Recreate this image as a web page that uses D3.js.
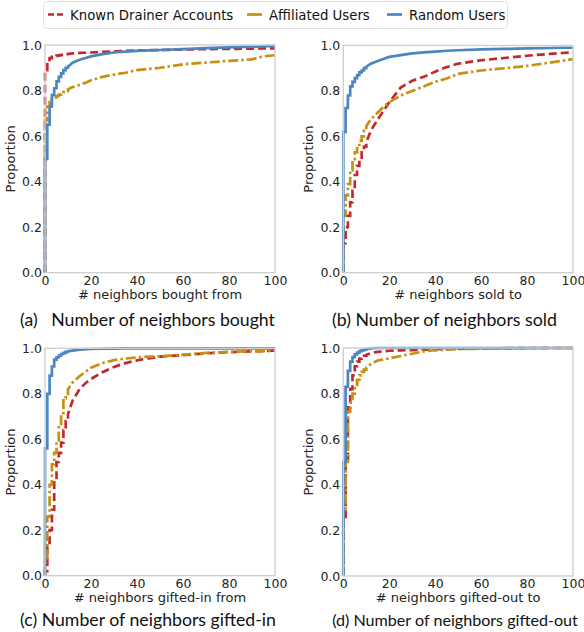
<!DOCTYPE html>
<html>
<head>
<meta charset="utf-8">
<script src="https://cdn.jsdelivr.net/npm/d3@7"></script>
<style>
  html, body { margin: 0; padding: 0; background: #fff; }
  svg { display: block; }
</style>
</head>
<body>
<svg id="chart" width="584" height="632"></svg>
<script>
// ---------------- DATA ----------------
const seriesNames = ["Known Drainer Accounts", "Affiliated Users", "Random Users"];
const xTicks = [0, 20, 40, 60, 80, 100];
const yTicks = [0.0, 0.2, 0.4, 0.6, 0.8, 1.0];
const xTickLabels = ["0", "20", "40", "60", "80", "100"];
const yTickLabels = ["0.0", "0.2", "0.4", "0.6", "0.8", "1.0"];

// number of neighbors (x) at which the CDF values below are read
const neighbors = [0,1,2,3,4,5,6,7,8,9,10,12,15,18,20,25,30,35,40,45,50,60,70,80,90,95,100];

// (a) bought from
const boughtDrainer = [0.89,0.935,0.942,0.948,0.951,0.953,0.955,0.957,0.958,0.96,0.961,0.963,0.965,0.966,0.967,0.97,0.972,0.974,0.976,0.977,0.978,0.98,0.982,0.983,0.984,0.985,0.985];
const boughtAffiliated = [0.67,0.73,0.755,0.765,0.77,0.776,0.782,0.788,0.793,0.798,0.805,0.815,0.825,0.835,0.845,0.86,0.87,0.878,0.89,0.895,0.90,0.915,0.923,0.93,0.937,0.95,0.955];
const boughtRandom = [0.50,0.65,0.73,0.78,0.81,0.84,0.86,0.875,0.89,0.90,0.905,0.922,0.935,0.944,0.95,0.96,0.967,0.971,0.974,0.976,0.978,0.982,0.986,0.99,0.993,0.994,0.996];

// (b) sold to
const soldDrainer = [0.13,0.20,0.25,0.31,0.36,0.43,0.47,0.50,0.53,0.555,0.575,0.625,0.675,0.72,0.75,0.815,0.845,0.862,0.885,0.905,0.92,0.935,0.945,0.955,0.963,0.967,0.97];
const soldAffiliated = [0.25,0.34,0.39,0.45,0.50,0.53,0.555,0.58,0.60,0.625,0.645,0.675,0.705,0.735,0.75,0.78,0.80,0.82,0.84,0.855,0.875,0.89,0.90,0.91,0.925,0.932,0.94];
const soldRandom = [0.62,0.725,0.78,0.82,0.84,0.856,0.87,0.882,0.89,0.90,0.907,0.92,0.932,0.943,0.95,0.958,0.965,0.97,0.973,0.977,0.979,0.983,0.985,0.987,0.989,0.99,0.99];

// (c) gifted-in from
const giftInDrainer = [0.02,0.13,0.20,0.29,0.43,0.50,0.54,0.585,0.64,0.68,0.71,0.77,0.82,0.85,0.865,0.895,0.918,0.935,0.947,0.956,0.963,0.97,0.978,0.983,0.987,0.988,0.99];
const giftInAffiliated = [0.06,0.26,0.40,0.49,0.54,0.595,0.66,0.715,0.78,0.80,0.82,0.85,0.877,0.90,0.915,0.935,0.948,0.955,0.96,0.963,0.965,0.972,0.98,0.984,0.987,0.988,0.99];
const giftInRandom = [0.56,0.80,0.88,0.92,0.95,0.96,0.968,0.975,0.98,0.984,0.987,0.99,0.994,0.996,0.997,0.998,0.999,1,1,1,1,1,1,1,1,1,1];

// (d) gifted-out to
const giftOutDrainer = [0.25,0.50,0.74,0.82,0.88,0.92,0.94,0.953,0.96,0.966,0.97,0.978,0.983,0.986,0.988,0.99,0.991,0.993,0.995,0.996,0.997,0.998,0.999,1,1,1,1];
const giftOutAffiliated = [0.29,0.50,0.72,0.76,0.80,0.83,0.86,0.88,0.895,0.905,0.915,0.93,0.945,0.95,0.955,0.965,0.975,0.985,0.99,0.993,0.995,0.997,0.998,0.999,1,1,1];
const giftOutRandom = [0.50,0.83,0.90,0.94,0.96,0.972,0.98,0.986,0.99,0.993,0.995,0.998,1,1,1,1,1,1,1,1,1,1,1,1,1,1,1];

const panelXLabels = ["# neighbors bought from", "# neighbors sold to", "# neighbors gifted-in from", "# neighbors gifted-out to"];
const panelCaptions = ["(a)   Number of neighbors bought", "(b) Number of neighbors sold", "(c) Number of neighbors gifted-in", "(d) Number of neighbors gifted-out"];
const panelSeries = [
  [boughtDrainer, boughtAffiliated, boughtRandom],
  [soldDrainer, soldAffiliated, soldRandom],
  [giftInDrainer, giftInAffiliated, giftInRandom],
  [giftOutDrainer, giftOutAffiliated, giftOutRandom]
];

// ---------------- STYLE / LAYOUT ----------------
const colors = ["#c4282e", "#c8900e", "#4a86c2"];
const dashes = ["8,4", "10,3,2.5,3", null];
const lineWidth = 2.7;
const boxes = [
  {l: 45, r: 275, t: 45, b: 272.7, capL: 20, capR: 275, capY: 320},
  {l: 343.3, r: 573, t: 45.5, b: 272.7, capL: 332, capR: 557, capY: 320},
  {l: 45, r: 275, t: 348.3, b: 575.7, capL: 20, capR: 276, capY: 620},
  {l: 343.3, r: 573, t: 348, b: 576, capL: 332, capR: 578, capY: 620}
];
const tickFont = "'DejaVu Sans', sans-serif";
const captionFont = "Lato, 'Open Sans', sans-serif";

const svg = d3.select("#chart");
svg.append("rect").attr("width", 584).attr("height", 632).attr("fill", "#fff");

function cdfPoints(xs, ys) {
  // step at unit spacing, straight segments where data is sparser
  const pts = [[xs[0], 0], [xs[0], ys[0]]];
  for (let i = 1; i < xs.length; i++) {
    if (xs[i] - xs[i - 1] <= 1) pts.push([xs[i], ys[i - 1]]);
    pts.push([xs[i], ys[i]]);
  }
  return pts;
}

boxes.forEach((bx, pi) => {
  const g = svg.append("g");
  const x = d3.scaleLinear().domain([0, 100]).range([bx.l, bx.r]);
  const y = d3.scaleLinear().domain([0, 1]).range([bx.b, bx.t]);

  const clipId = "clip" + pi;
  g.append("clipPath").attr("id", clipId).append("rect")
    .attr("x", bx.l - 2).attr("y", bx.t - 3).attr("width", bx.r - bx.l + 4).attr("height", bx.b - bx.t + 3);

  const line = d3.line().x(d => x(d[0])).y(d => y(d[1]));
  const lines = g.append("g").attr("clip-path", `url(#${clipId})`);
  [0, 1, 2].forEach(si => {
    lines.append("path")
      .attr("d", line(cdfPoints(neighbors, panelSeries[pi][si])))
      .attr("fill", "none")
      .attr("stroke", colors[si])
      .attr("stroke-width", lineWidth)
      .attr("stroke-dasharray", dashes[si])
      .attr("stroke-linejoin", "miter");
  });

  // frame
  g.append("rect").attr("x", bx.l).attr("y", bx.t).attr("width", bx.r - bx.l).attr("height", bx.b - bx.t)
    .attr("fill", "none").attr("stroke", "#cfcfcf").attr("stroke-width", 1.4);

  // axes (no tick marks)
  const xAxis = d3.axisBottom(x).tickValues(xTicks).tickFormat((d, i) => xTickLabels[i]).tickSize(0).tickPadding(3);
  const yAxis = d3.axisLeft(y).tickValues(yTicks).tickFormat((d, i) => yTickLabels[i]).tickSize(0).tickPadding(3);
  const gx = g.append("g").attr("transform", `translate(0,${bx.b})`).call(xAxis);
  const gy = g.append("g").attr("transform", `translate(${bx.l},0)`).call(yAxis);
  [gx, gy].forEach(ax => {
    ax.select(".domain").remove();
    ax.selectAll("text").attr("font-family", tickFont).attr("font-size", 12.5).attr("fill", "#222");
  });

  g.append("text").attr("x", (bx.l + bx.r) / 2).attr("y", bx.b + 26)
    .attr("text-anchor", "middle").attr("font-family", tickFont).attr("font-size", 13).attr("fill", "#222")
    .text(panelXLabels[pi]);
  g.append("text")
    .attr("transform", `translate(${bx.l - 30.5},${(bx.t + bx.b) / 2}) rotate(-90)`)
    .attr("text-anchor", "middle").attr("font-family", tickFont).attr("font-size", 13).attr("fill", "#222")
    .text("Proportion");

  // caption: pick a font size so the text spans the same width as in the reference
  const cap = g.append("text").attr("x", (bx.capL + bx.capR) / 2).attr("y", bx.capY + 6)
    .attr("text-anchor", "middle").attr("font-family", captionFont).attr("font-size", 17.5).attr("fill", "#111")
    .style("white-space", "pre")
    .text(panelCaptions[pi]);
  const w = cap.node().getComputedTextLength();
  const fs = Math.min(18, 17.5 * (bx.capR - bx.capL) / w);
  cap.attr("font-size", fs.toFixed(2));
});

// legend
const lg = svg.append("g");
lg.append("rect").attr("x", 43.5).attr("y", 1.5).attr("width", 464).attr("height", 27).attr("rx", 3)
  .attr("fill", "#fff").attr("stroke", "#e2e2e2").attr("stroke-width", 1);
const legendX = [48, 247, 387];
seriesNames.forEach((name, i) => {
  lg.append("line").attr("x1", legendX[i]).attr("x2", legendX[i] + 15).attr("y1", 14.5).attr("y2", 14.5)
    .attr("stroke", colors[i]).attr("stroke-width", lineWidth)
    .attr("stroke-dasharray", i === 0 ? "6,3" : (i === 1 ? "15,3" : null));
  lg.append("text").attr("x", legendX[i] + 22).attr("y", 19.5)
    .attr("font-family", tickFont).attr("font-size", 13.3).attr("fill", "#111").text(name);
});
</script>
</body>
</html>
